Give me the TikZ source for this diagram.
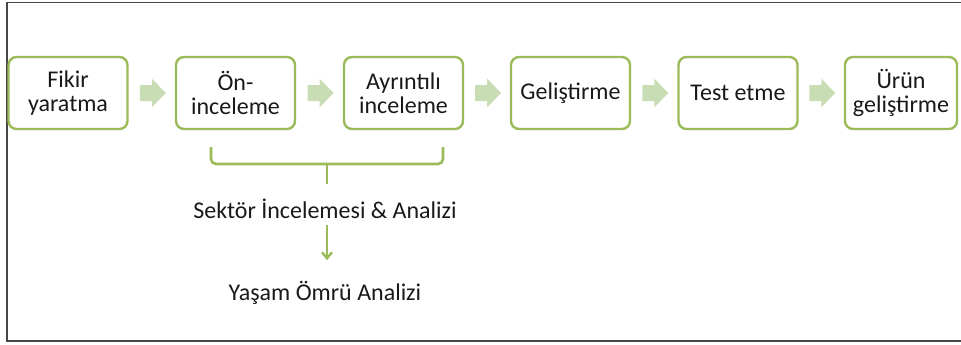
\documentclass[tikz,border=0pt]{standalone}
\usepackage{fontspec}
\setmainfont{Carlito}
\usetikzlibrary{calc,arrows.meta}
\definecolor{stepgreen}{RGB}{155,187,89}
\definecolor{arrowgreen}{RGB}{201,221,180}
\definecolor{framegray}{RGB}{70,70,70}
\definecolor{inktext}{RGB}{25,25,25}
\tikzset{
  stepbox/.style={draw=stepgreen, line width=2.4pt, rounded corners=8pt,
    minimum width=119pt, minimum height=72pt, inner sep=0pt, align=center,
    text=inktext, font=\fontsize{24}{23.5}\selectfont},
  caption/.style={inner sep=0pt, text=inktext, font=\fontsize{24}{23}\selectfont},
  flowarrow/.pic={\fill[arrowgreen] (-13,-8) -- (-1,-8) -- (-1,-14.5) -- (13,0)
     -- (-1,14.5) -- (-1,8) -- (-13,8) -- cycle;},
  bracketline/.style={draw=stepgreen, line width=2.6pt, rounded corners=5pt},
}
\begin{document}
\begin{tikzpicture}[x=1pt,y=-1pt]
\useasboundingbox (0,0) rectangle (961,345);
% outer frame (open on the right)
\draw[framegray, line width=1.2pt] (961,2.5) -- (7,2.5) -- (7,341) -- (961,341);

% process steps
\node[stepbox] (s1) at (68,93)    {Fikir\\yaratma};
\node[stepbox] (s2) at (235.5,93) {Ön-\\inceleme};
\node[stepbox] (s3) at (403.5,93) {Ayrıntılı\\inceleme};
\node[stepbox] (s4) at (570.5,93) {Geliştirme};
\node[stepbox] (s5) at (738,93)   {Test etme};
\node[stepbox, minimum width=112pt] (s6) at (901,93) {Ürün\\geliştirme};

% block arrows between steps
\foreach \a/\b in {s1/s2,s2/s3,s3/s4,s4/s5,s5/s6}
  \pic at ($(\a.east)!0.5!(\b.west)+(1,0)$) {flowarrow};

% bracket under the two review steps
\coordinate (bl) at (211,147);
\coordinate (br) at (443,147);
\coordinate (bm) at (327,164);
\coordinate (bt) at (327,184);
\draw[bracketline] (bl) |- (443,164) -- (br);
\draw[draw=stepgreen, line width=2.6pt] (bm) -- (bt);

\node[caption] (sector) at (325,209) {Sektör İncelemesi \& Analizi};
\node[caption] (life) at (325,293) {Yaşam Ömrü Analizi};
\draw[stepgreen, line width=2.4pt, -{Straight Barb[length=6pt,width=10pt]}]
  ($(sector.south)+(2,0)$) coordinate (d1) -- (d1 |- life.north)
  [shorten <=6pt, shorten >=21pt];
\end{tikzpicture}
\end{document}
